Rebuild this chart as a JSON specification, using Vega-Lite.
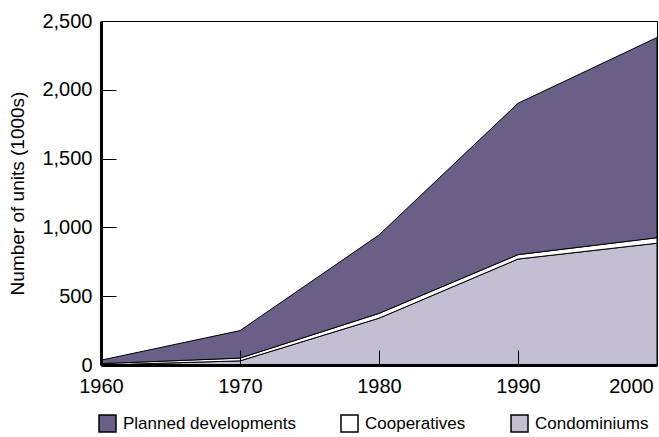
{
  "$schema": "https://vega.github.io/schema/vega-lite/v6.json",
  "autosize": "none",
  "width": 556,
  "height": 344,
  "padding": {"left": 101, "top": 21, "right": 2, "bottom": 72},
  "background": "white",
  "config": {
    "view": {"stroke": "black", "strokeWidth": 1},
    "font": "Liberation Sans"
  },
  "data": {
    "values": [
      {"year": 1960, "type": "Condominiums", "units": 0, "ord": 1},
      {"year": 1970, "type": "Condominiums", "units": 30, "ord": 1},
      {"year": 1980, "type": "Condominiums", "units": 340, "ord": 1},
      {"year": 1990, "type": "Condominiums", "units": 770, "ord": 1},
      {"year": 2000, "type": "Condominiums", "units": 885, "ord": 1},
      {"year": 1960, "type": "Cooperatives", "units": 10, "ord": 2},
      {"year": 1970, "type": "Cooperatives", "units": 20, "ord": 2},
      {"year": 1980, "type": "Cooperatives", "units": 35, "ord": 2},
      {"year": 1990, "type": "Cooperatives", "units": 32, "ord": 2},
      {"year": 2000, "type": "Cooperatives", "units": 40, "ord": 2},
      {"year": 1960, "type": "Planned developments", "units": 25, "ord": 3},
      {"year": 1970, "type": "Planned developments", "units": 200, "ord": 3},
      {"year": 1980, "type": "Planned developments", "units": 570, "ord": 3},
      {"year": 1990, "type": "Planned developments", "units": 1100, "ord": 3},
      {"year": 2000, "type": "Planned developments", "units": 1455, "ord": 3}
    ]
  },
  "mark": {"type": "area", "stroke": "black", "strokeWidth": 1, "opacity": 1, "fillOpacity": 1},
  "encoding": {
    "x": {
      "field": "year",
      "type": "quantitative",
      "scale": {"domain": [1960, 2000], "nice": false, "zero": false},
      "axis": {
        "title": null,
        "values": [1960, 1970, 1980, 1990, 2000],
        "format": "d",
        "grid": false,
        "domainColor": "black",
        "domainWidth": 3,
        "tickColor": "black",
        "tickWidth": 1,
        "tickSize": -15,
        "labelPadding": 26,
        "labelFontSize": 20,
        "labelColor": "black",
        "labelFont": "Liberation Sans",
        "labelFlush": false,
        "labelOverlap": false,
        "labelBound": false,
        "labelOffset": {"condition": {"test": "datum.value == 2000", "value": -26}, "value": 0},
        "zindex": 1
      }
    },
    "y": {
      "field": "units",
      "type": "quantitative",
      "stack": "zero",
      "scale": {"domain": [0, 2500], "nice": false},
      "axis": {
        "title": "Number of units (1000s)",
        "titleFont": "Liberation Sans",
        "titleFontSize": 19,
        "titleFontWeight": "normal",
        "titleColor": "black",
        "titlePadding": 14,
        "values": [0, 500, 1000, 1500, 2000, 2500],
        "format": ",d",
        "grid": false,
        "domainColor": "black",
        "domainWidth": 3,
        "tickColor": "black",
        "tickWidth": 1,
        "tickSize": -15,
        "labelPadding": 24,
        "labelFontSize": 20,
        "labelColor": "black",
        "labelFont": "Liberation Sans",
        "labelFlush": false,
        "labelOverlap": false,
        "zindex": 1
      }
    },
    "color": {
      "field": "type",
      "type": "nominal",
      "scale": {
        "domain": ["Planned developments", "Cooperatives", "Condominiums"],
        "range": ["#6a5f86", "#ffffff", "#c4bed3"]
      },
      "legend": {
        "title": null,
        "orient": "none",
        "direction": "horizontal",
        "legendX": -3,
        "legendY": 393,
        "padding": 0,
        "symbolType": "square",
        "symbolSize": 289,
        "symbolStrokeColor": "black",
        "symbolStrokeWidth": 1.5,
        "symbolOpacity": 1,
        "labelFont": "Liberation Sans",
        "labelFontSize": 17,
        "labelColor": "black",
        "labelOffset": 6,
        "columnPadding": 42,
        "labelLimit": 300
      }
    },
    "order": {"field": "ord", "type": "quantitative"}
  }
}
